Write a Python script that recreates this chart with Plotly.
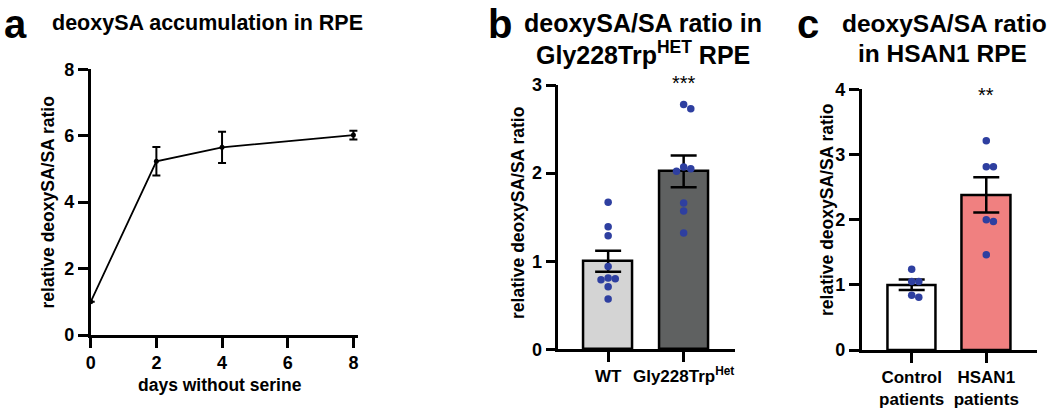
import plotly.graph_objects as go

W, H = 1050, 414

# ---------------- data ----------------
# Panel a
days = [0, 2, 4, 8]
accum_mean = [1.0, 5.23, 5.65, 6.02]
accum_sem = [0.0, 0.43, 0.47, 0.13]

# Panel b
b_groups = ["WT", "Gly228Trp<sup>Het</sup>"]
b_means = [1.0, 2.02]
b_sems = [0.12, 0.18]
b_wt_points = [1.67, 1.39, 1.29, 0.94, 0.81, 0.80, 0.79, 0.71, 0.57]
b_het_points = [2.78, 2.73, 2.07, 2.05, 2.02, 1.66, 1.57, 1.32]
b_colors = ["#d4d4d4", "#5f6161"]

# Panel c
c_groups = ["Control<br>patients", "HSAN1<br>patients"]
c_means = [1.0, 2.38]
c_sems = [0.08, 0.27]
c_ctrl_points = [1.24, 1.05, 1.05, 0.84, 0.81]
c_hsan_points = [3.21, 2.81, 2.81, 2.0, 1.97, 1.46]
c_colors = ["#ffffff", "#f08080"]

# ---------------- styling ----------------
FONT = "Liberation Sans, Arial, Helvetica, sans-serif"
DOT = "#2e3fa0"
LW = 2.5


def px_x(p):
    return p / W


def px_y(p):
    return 1 - p / H


def swarm(values, center, xunit_px, yunit_px, diam):
    """Simple beeswarm: offset overlapping dots sideways (in data units)."""
    placed = []
    xs = []
    for v in values:
        yp = v * yunit_px
        for k in [0, 1, -1, 2, -2, 3, -3]:
            xp = k * diam * 0.95
            ok = all(((xp - a) ** 2 + (yp - b) ** 2) ** 0.5 >= diam * 0.75 for a, b in placed)
            if ok:
                break
        placed.append((xp, yp))
        xs.append(center + xp / xunit_px)
    return xs


# domains (in pixels)
A_X = (90.7, 358.0); A_Y = (335.0, 69.3)
B_X = (558.3, 735.0); B_Y = (349.3, 85.0)
C_X = (861.7, 1037.0); C_Y = (350.0, 89.3)
A_XR = [0, 8.14]
B_XR = [-0.66, 1.68]
C_XR = [-0.67, 1.68]

fig = go.Figure()

# Panel a
fig.add_trace(go.Scatter(
    x=days, y=accum_mean, mode="lines+markers",
    line=dict(color="black", width=1.8),
    marker=dict(color="black", size=5),
    error_y=dict(type="data", array=accum_sem, color="black", thickness=2, width=4),
    cliponaxis=False, xaxis="x", yaxis="y", showlegend=False))

# Panel b
fig.add_trace(go.Bar(
    x=[0, 1], y=b_means, width=0.65,
    marker=dict(color=b_colors, line=dict(color="black", width=LW)),
    xaxis="x2", yaxis="y2", showlegend=False))
fig.add_trace(go.Scatter(
    x=[0, 1], y=b_means, mode="markers", marker=dict(opacity=0, size=1),
    error_y=dict(type="data", array=b_sems, color="black", thickness=LW, width=13),
    xaxis="x2", yaxis="y2", showlegend=False, cliponaxis=False))
b_xu = (B_X[1] - B_X[0]) / (B_XR[1] - B_XR[0])
b_yu = (B_Y[0] - B_Y[1]) / 3
for i, pts in enumerate([b_wt_points, b_het_points]):
    fig.add_trace(go.Scatter(
        x=swarm(pts, i, b_xu, b_yu, 7.5), y=pts, mode="markers",
        marker=dict(color=DOT, size=7.5),
        xaxis="x2", yaxis="y2", showlegend=False, cliponaxis=False))

# Panel c
fig.add_trace(go.Bar(
    x=[0, 1], y=c_means, width=0.65,
    marker=dict(color=c_colors, line=dict(color="black", width=LW)),
    xaxis="x3", yaxis="y3", showlegend=False))
fig.add_trace(go.Scatter(
    x=[0, 1], y=c_means, mode="markers", marker=dict(opacity=0, size=1),
    error_y=dict(type="data", array=c_sems, color="black", thickness=LW, width=13),
    xaxis="x3", yaxis="y3", showlegend=False, cliponaxis=False))
c_xu = (C_X[1] - C_X[0]) / (C_XR[1] - C_XR[0])
c_yu = (C_Y[0] - C_Y[1]) / 4
for i, pts in enumerate([c_ctrl_points, c_hsan_points]):
    fig.add_trace(go.Scatter(
        x=swarm(pts, i, c_xu, c_yu, 7.5), y=pts, mode="markers",
        marker=dict(color=DOT, size=7.5),
        xaxis="x3", yaxis="y3", showlegend=False, cliponaxis=False))

tickfont = dict(family=FONT, size=18, color="black", weight="bold")
xtickfont = dict(family=FONT, size=17, color="black", weight="bold")
common = dict(showline=True, linecolor="black", linewidth=LW, ticks="outside",
              ticklen=10, tickwidth=LW, tickcolor="black", showgrid=False,
              zeroline=False, fixedrange=True, automargin=False)

fig.update_layout(
    width=W, height=H, margin=dict(l=0, r=0, t=0, b=0, autoexpand=False),
    plot_bgcolor="white", paper_bgcolor="white", bargap=0,
    xaxis=dict(domain=[px_x(A_X[0]), px_x(A_X[1])], range=A_XR, anchor="y",
               tickvals=[0, 2, 4, 6, 8], tickfont=tickfont, **common),
    yaxis=dict(domain=[px_y(A_Y[0]), px_y(A_Y[1])], range=[0, 8], anchor="x",
               tickvals=[0, 2, 4, 6, 8], tickfont=tickfont, **common),
    xaxis2=dict(domain=[px_x(B_X[0]), px_x(B_X[1])], range=B_XR, anchor="y2",
                tickvals=[0, 1], ticktext=b_groups, tickfont=xtickfont, **common),
    yaxis2=dict(domain=[px_y(B_Y[0]), px_y(B_Y[1])], range=[0, 3], anchor="x2",
                tickvals=[0, 1, 2, 3], tickfont=tickfont, **common),
    xaxis3=dict(domain=[px_x(C_X[0]), px_x(C_X[1])], range=C_XR, anchor="y3",
                tickvals=[0, 1], ticktext=c_groups, tickfont=xtickfont, **common),
    yaxis3=dict(domain=[px_y(C_Y[0]), px_y(C_Y[1])], range=[0, 4], anchor="x3",
                tickvals=[0, 1, 2, 3, 4], tickfont=tickfont, **common),
)


def ann(text, x, y, size, xanchor="center", yanchor="middle", angle=0, weight="bold"):
    fig.add_annotation(text=text, x=px_x(x), y=px_y(y), xref="paper", yref="paper",
                       xanchor=xanchor, yanchor=yanchor, textangle=angle,
                       showarrow=False, align="center",
                       font=dict(family=FONT, size=size, color="black", weight=weight))


# panel letters and titles
ann("a", 2, 0, 40, xanchor="left", yanchor="top")
ann("deoxySA accumulation in RPE", 50, 23, 21.5, xanchor="left")
ann("b", 486, 0, 40, xanchor="left", yanchor="top")
ann("deoxySA/SA ratio in", 643, 23, 25)
ann("Gly228Trp<sup>HET</sup> RPE", 643, 53, 25)
ann("c", 795, 0, 40, xanchor="left", yanchor="top")
ann("deoxySA/SA ratio", 944, 23, 24.5)
ann("in HSAN1 RPE", 942, 53, 24.5)

# axis titles
ann("relative deoxySA/SA ratio", 48, 202.5, 17.5, angle=-90)
ann("days without serine", 220, 385, 17.5)
ann("relative deoxySA/SA ratio", 518, 213, 17.5, angle=-90)
ann("relative deoxySA/SA ratio", 827, 210, 17.5, angle=-90)

# significance
ann("***", 683.5, 83, 20, weight="normal")
ann("**", 986.3, 95, 20, weight="normal")

fig.write_html("out.html", config={"displayModeBar": False},
               post_script="document.body.style.margin='0';document.body.style.overflow='hidden';")
